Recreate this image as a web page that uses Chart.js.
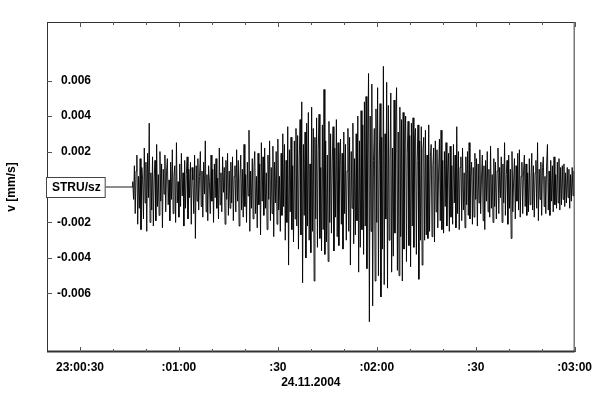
<!DOCTYPE html>
<html>
<head>
<meta charset="utf-8">
<script src="https://cdn.jsdelivr.net/npm/chart.js@4.4.1/dist/chart.umd.min.js"></script>
<style>
  html, body { margin: 0; padding: 0; background: #fff; }
  #wrap { width: 600px; height: 406px; }
</style>
</head>
<body>
<div id="wrap"><canvas id="seismo" width="600" height="406"></canvas></div>
<script>
// station / component shown on the zero line
const traceLabel = "STRU/sz";

// x axis: seconds after 23:00:00, 24.11.2004
const xMin = 20;
const xMax = 180;
const xTickValues = [30, 60, 90, 120, 150, 180];
const xTickLabels = ["23:00:30", ":01:00", ":30", ":02:00", ":30", ":03:00"];
const xMinorTicks = [40, 50, 70, 80, 100, 110, 130, 140, 160, 170];

// y axis: velocity in mm/s
const yMin = -0.0093;
const yMax = 0.0093;
const yTickValues = [-0.006, -0.004, -0.002, 0.002, 0.004, 0.006];
const yTickLabels = ["-0.006", "-0.004", "-0.002", "0.002", "0.004", "0.006"];

// flat line before the record starts (seconds)
const leadTimes = [36, 46];

// record: first sample time and spacing (seconds)
const traceStart = 46;
const sampleStep = 0.25;

// velocity peaks, units of 0.0001 mm/s
const velocityE4 = [
  // 46 - 56 s
  3, -7, 12, -15, 9, 18, -21, 6, -12, 16, -24, 11, 4, -18, 22, -9, 14, -25, 19, -6, 36, -20, 8, -13, 17, -22, 5, 15, -19, 24, -11, 7, -16, 20, -8, 13, -23, 10, -4, 18,
  // 56 - 66 s
  -14, 9, 16, -10, 4, -19, 14, -7, 21, -15, 6, 12, -20, 25, -9, 3, -17, 13, -11, 19, -5, 8, -22, 15, -12, 7, 17, -18, 10, -6, 14, -21, 11, 4, -15, 18, -29, 12, -8, 16,
  // 66 - 76 s
  -13, 6, 20, -11, 9, -17, 14, -4, 26, -14, 7, -19, 12, 3, -15, 18, -8, 10, -20, 13, -6, 16, -12, 5, -18, 22, -10, 8, -14, 17, -3, 11, -21, 15, -7, 19, -16, 9, -12, 14,
  // 76 - 86 s
  -9, 17, -19, 6, 12, -14, 21, -8, 15, -22, 4, 18, -13, 10, -17, 24, -11, 7, -20, 14, -5, 32, -25, 9, -12, 16, -18, 11, 20, -15, 6, -23, 19, -10, 13, -27, 25, -8, 17, -16,
  // 86 - 96 s
  22, -12, 8, -24, 18, -7, 26, -19, 11, -15, 23, -28, 14, -9, 20, -21, 27, -13, 6, -25, 19, -16, 30, -11, 24, -30, 15, -20, 34, -44, 21, -14, 28, -24, 12, -31, 26, -18, 33, -22,
  // 96 - 106 s
  29, -35, 17, 38, -27, 48, -54, 24, -16, 31, -40, 36, -22, 42, -30, 13, -37, 45, -25, 33, -53, 28, -18, 39, -34, 21, 41, -29, 11, -36, 35, -24, 55, -38, 26, -31, 18, -42, 37, -20,
  // 106 - 116 s
  30, -26, 14, 34, -36, 22, -17, 38, -28, 25, -33, 12, 27, -21, 19, -35, 31, -15, 24, -30, 9, 33, -25, 28, -44, 20, -12, 36, -32, 16, -27, 30, -19, 40, -48, 26, -34, 43, -24, 35,
  // 116 - 126 s
  -38, 48, -22, 51, -46, 18, 64, -76, 40, -25, 58, -67, 15, 33, -53, 44, -20, 56, -50, 12, 47, -62, 28, -35, 68, -55, 30, -18, 59, -57, 46, -30, 14, 53, -48, 22, -39, 49, -26, 36,
  // 126 - 136 s
  56, -47, 31, -50, 45, -28, 38, -53, 42, -35, 24, 40, -42, 19, 37, -33, 29, -45, 36, -22, 39, -34, 27, 33, -38, 15, 35, -52, 26, -30, 34, -44, 21, 28, -30, 32, -27, 18, -29, 35,
  // 136 - 146 s
  -25, 17, 24, -28, 12, 22, -31, 26, -14, 21, -23, 9, 27, -19, 32, -24, 15, -26, 20, -11, 25, -22, 8, 19, -25, 23, -17, 12, -21, 24, -9, 18, -23, 34, -15, 20, -24, 11, 17, -19,
  // 146 - 156 s
  22, -13, 8, -23, 17, -10, 20, -16, 25, -18, 6, 14, -21, 11, -17, 19, -7, 16, -22, 13, -9, 21, -15, 5, 18, -19, 12, -24, 15, -8, 20, -14, 10, -17, 23, -12, 7, -20, 16, -11,
  // 156 - 166 s
  14, -18, 9, 22, -15, 11, -6, 17, -20, 13, -9, 25, -16, 7, 15, -21, 18, -12, 10, -29, 20, -14, 4, 16, -18, 12, -8, 19, -13, 21, -17, 6, 14, -15, 9, 18, -11, 13, -16, 8,
  // 166 - 176 s
  -14, 16, -10, 5, 19, -13, 12, -17, 8, 15, -12, 25, -19, 10, -7, 14, -16, 11, 17, -11, 6, -15, 13, 24, -13, 9, -16, 15, -8, 12, -14, 17, -10, 7, -12, 14, -9, 16, -13, 11,
  // 176 - 180 s
  -10, 12, -7, 13, -11, 8, -9, 11, -6, 10, -12, 7, -8, 11, -5, 9
];

const font = { family: "'Liberation Sans', Arial, Helvetica, sans-serif", size: 12, weight: "bold" };

// lead-in line plus the record, placed on the time axis
const tracePoints = leadTimes.map((t) => ({ x: t, y: 0 }))
  .concat(velocityE4.map((v, i) => ({ x: traceStart + i * sampleStep, y: v * 0.0001 })));

// frame, inner tick marks and the station label box
const framePlugin = {
  id: "frame",
  afterDatasetsDraw(chart) {
    const { ctx, chartArea: a, scales } = chart;
    const xs = scales.x, ys = scales.y;
    ctx.save();
    ctx.strokeStyle = "#333";
    ctx.lineWidth = 1;
    ctx.strokeRect(a.left + 0.5, a.top + 0.5, a.right - a.left - 1, a.bottom - a.top - 1);
    ctx.lineWidth = 2;
    ctx.beginPath();
    ctx.moveTo(a.left, a.bottom - 0.5);
    ctx.lineTo(a.right, a.bottom - 0.5);
    ctx.stroke();

    ctx.lineWidth = 1;
    ctx.strokeStyle = "#555";
    ctx.beginPath();
    xTickValues.concat(xMinorTicks).forEach((t) => {
      const px = Math.round(xs.getPixelForValue(t)) + 0.5;
      const len = xTickValues.includes(t) ? 5 : 3;
      ctx.moveTo(px, a.bottom);
      ctx.lineTo(px, a.bottom - len);
      ctx.moveTo(px, a.top);
      ctx.lineTo(px, a.top + len);
    });
    yTickValues.forEach((v) => {
      const py = Math.round(ys.getPixelForValue(v)) + 0.5;
      ctx.moveTo(a.left, py);
      ctx.lineTo(a.left + 5, py);
    });
    ctx.stroke();

    // label box on the zero line
    const y0 = ys.getPixelForValue(0);
    ctx.font = "bold 12px 'Liberation Sans', Arial, sans-serif";
    const w = ctx.measureText(traceLabel).width + 10;
    ctx.fillStyle = "#fff";
    ctx.fillRect(a.left, y0 - 10, w, 20);
    ctx.strokeStyle = "#444";
    ctx.strokeRect(a.left - 0.5, Math.round(y0) - 9.5, w, 20);
    ctx.fillStyle = "#000";
    ctx.textAlign = "center";
    ctx.textBaseline = "middle";
    ctx.fillText(traceLabel, a.left + w / 2, y0 + 1);
    ctx.restore();
  }
};

new Chart(document.getElementById("seismo"), {
  type: "line",
  data: {
    datasets: [{
      label: traceLabel,
      data: tracePoints,
      borderColor: "#000",
      borderWidth: 0.9,
      pointRadius: 0,
      tension: 0,
      fill: false
    }]
  },
  options: {
    responsive: false,
    animation: false,
    layout: { padding: { top: 22, right: 24, bottom: 0, left: 0 } },
    plugins: {
      legend: { display: false },
      tooltip: { enabled: false }
    },
    scales: {
      x: {
        type: "linear",
        min: xMin,
        max: xMax,
        grid: { display: false, drawTicks: false },
        border: { display: false },
        afterBuildTicks: (s) => { s.ticks = xTickValues.map((v) => ({ value: v })); },
        afterFit: (s) => { s.height = 54; },
        ticks: {
          color: "#000",
          font: font,
          padding: 8,
          maxRotation: 0,
          autoSkip: false,
          callback: (v) => xTickLabels[xTickValues.indexOf(v)]
        },
        title: {
          display: true,
          text: "24.11.2004",
          color: "#000",
          font: font,
          padding: { top: 0, bottom: 16 }
        }
      },
      y: {
        type: "linear",
        min: yMin,
        max: yMax,
        grid: { display: false, drawTicks: false },
        border: { display: false },
        afterBuildTicks: (s) => { s.ticks = yTickValues.map((v) => ({ value: v })); },
        afterFit: (s) => { s.width = 47; },
        ticks: {
          color: "#000",
          font: font,
          mirror: true,
          crossAlign: "far",
          padding: 10,
          autoSkip: false,
          callback: (v) => yTickLabels[yTickValues.indexOf(v)]
        },
        title: {
          display: true,
          text: "v [mm/s]",
          color: "#000",
          font: font,
          padding: { top: 4, bottom: 4 }
        }
      }
    }
  },
  plugins: [framePlugin]
});
</script>
</body>
</html>
